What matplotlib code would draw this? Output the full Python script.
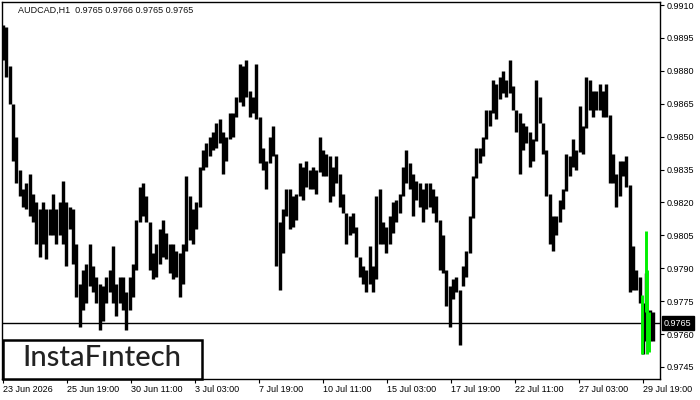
import numpy as np
import matplotlib.pyplot as plt
import matplotlib.transforms as mtransforms
from matplotlib.patches import Rectangle

# high / low of each chart column (left to right)
highs = [
    0.9901, 0.9900, 0.9882, 0.9865, 0.9850, 0.9835, 0.9826, 0.9829, 0.9833, 0.9824, 0.9820,
    0.9817, 0.9820, 0.9817, 0.9817, 0.9824, 0.9817, 0.9820, 0.9830, 0.9820, 0.9818, 0.9817,
    0.9801, 0.9783, 0.9789, 0.9792, 0.9801, 0.9791, 0.9786, 0.9783, 0.9782, 0.9786, 0.9789,
    0.9800, 0.9783, 0.9786, 0.9786, 0.9779, 0.9786, 0.9792, 0.9812, 0.9827, 0.9829, 0.9823,
    0.9811, 0.9797, 0.9801, 0.9808, 0.9812, 0.9806, 0.9801, 0.9801, 0.9798, 0.9797, 0.9801,
    0.9832, 0.9823, 0.9817, 0.9820, 0.9836, 0.9844, 0.9847, 0.9850, 0.9852, 0.9856, 0.9858,
    0.9852, 0.9850, 0.9861, 0.9861, 0.9868, 0.9883, 0.9882, 0.9885, 0.9871, 0.9868, 0.9883,
    0.9859, 0.9845, 0.9839, 0.9850, 0.9855, 0.9842, 0.9811, 0.9817, 0.9826, 0.9826, 0.9823,
    0.9824, 0.9838, 0.9836, 0.9839, 0.9835, 0.9836, 0.9835, 0.9850, 0.9844, 0.9842, 0.9841,
    0.9836, 0.9841, 0.9833, 0.9824, 0.9815, 0.9814, 0.9815, 0.9809, 0.9795, 0.9791, 0.9789,
    0.9800, 0.9791, 0.9823, 0.9826, 0.9811, 0.9809, 0.9814, 0.9820, 0.9821, 0.9824, 0.9836,
    0.9844, 0.9838, 0.9833, 0.9830, 0.9829, 0.9826, 0.9829, 0.9829, 0.9826, 0.9823, 0.9812,
    0.9805, 0.9789, 0.9782, 0.9785, 0.9786, 0.9780, 0.9791, 0.9798, 0.9814, 0.9832, 0.9845,
    0.9845, 0.9850, 0.9862, 0.9862, 0.9876, 0.9874, 0.9877, 0.9880, 0.9876, 0.9885, 0.9873,
    0.9862, 0.9861, 0.9856, 0.9855, 0.9852, 0.9849, 0.9876, 0.9868, 0.9856, 0.9844, 0.9824,
    0.9814, 0.9814, 0.9821, 0.9826, 0.9842, 0.9841, 0.9849, 0.9844, 0.9864, 0.9855, 0.9877,
    0.9876, 0.9871, 0.9871, 0.9874, 0.9871, 0.9874, 0.9860, 0.9842, 0.9833, 0.9839, 0.9839,
    0.9841, 0.9828, 0.9800, 0.9789, 0.9786, 0.9774, 0.9788, 0.9771, 0.9770,
]
lows = [
    0.9885, 0.9877, 0.9865, 0.9839, 0.9829, 0.9823, 0.9818, 0.9817, 0.9814, 0.9811, 0.9801,
    0.9795, 0.9801, 0.9794, 0.9805, 0.9805, 0.9801, 0.9805, 0.9801, 0.9791, 0.9808, 0.9792,
    0.9777, 0.9763, 0.9771, 0.9774, 0.9782, 0.9779, 0.9774, 0.9762, 0.9766, 0.9774, 0.9779,
    0.9774, 0.9768, 0.9774, 0.9771, 0.9762, 0.9771, 0.9777, 0.9789, 0.9811, 0.9814, 0.9811,
    0.9789, 0.9785, 0.9786, 0.9792, 0.9795, 0.9794, 0.9788, 0.9785, 0.9786, 0.9777, 0.9783,
    0.9798, 0.9803, 0.9801, 0.9808, 0.9818, 0.9835, 0.9836, 0.9841, 0.9844, 0.9845, 0.9847,
    0.9833, 0.9839, 0.9849, 0.9850, 0.9859, 0.9866, 0.9864, 0.9868, 0.9859, 0.9861, 0.9858,
    0.9838, 0.9835, 0.9826, 0.9838, 0.9841, 0.9791, 0.9780, 0.9797, 0.9814, 0.9808, 0.9809,
    0.9812, 0.9823, 0.9821, 0.9827, 0.9826, 0.9826, 0.9824, 0.9834, 0.9832, 0.9832, 0.9820,
    0.9823, 0.9829, 0.9818, 0.9815, 0.9801, 0.9805, 0.9806, 0.9795, 0.9786, 0.9783, 0.9779,
    0.9783, 0.9779, 0.9785, 0.9801, 0.9801, 0.9797, 0.9801, 0.9806, 0.9811, 0.9815, 0.9823,
    0.9829, 0.9826, 0.9814, 0.9821, 0.9818, 0.9811, 0.9817, 0.9818, 0.9815, 0.9811, 0.9789,
    0.9788, 0.9773, 0.9763, 0.9776, 0.9779, 0.9755, 0.9782, 0.9786, 0.9797, 0.9813, 0.9831,
    0.9838, 0.9841, 0.9849, 0.9855, 0.9861, 0.9858, 0.9867, 0.9870, 0.9868, 0.9870, 0.9862,
    0.9852, 0.9833, 0.9844, 0.9847, 0.9836, 0.9839, 0.9848, 0.9856, 0.9842, 0.9823, 0.9801,
    0.9798, 0.9805, 0.9811, 0.9817, 0.9825, 0.9832, 0.9836, 0.9835, 0.9843, 0.9842, 0.9854,
    0.9862, 0.9859, 0.9862, 0.9862, 0.9859, 0.9859, 0.9829, 0.9829, 0.9818, 0.9823, 0.9832,
    0.9827, 0.9779, 0.9780, 0.9780, 0.9774, 0.9751, 0.9757, 0.9757, 0.9757,
]

# pattern bars in green (hours from the first bar)
green_hour = [639, 642.5, 644, 646]
green_high = [0.9778, 0.9807, 0.9789, 0.9770]
green_low = [0.9751, 0.9770, 0.9751, 0.9752]

bid = 0.9765
title = "AUDCAD,H1  0.9765 0.9766 0.9765 0.9765"
date_labels = ["23 Jun 2026", "25 Jun 19:00", "30 Jun 11:00", "3 Jul 03:00", "7 Jul 19:00",
               "10 Jul 11:00", "15 Jul 03:00", "17 Jul 19:00", "22 Jul 11:00",
               "27 Jul 03:00", "29 Jul 19:00"]
price_ticks = [0.9745, 0.9760, 0.9775, 0.9790, 0.9805, 0.9820, 0.9835,
               0.9850, 0.9865, 0.9880, 0.9895, 0.9910]

plt.rcParams['font.family'] = ['Liberation Sans', 'DejaVu Sans']

fig = plt.figure(figsize=(7, 4), dpi=100)
ax = fig.add_axes([2 / 700, 21 / 400, 658 / 700, 377 / 400])

hours = np.arange(len(highs)) * 10 / 3
ax.vlines(hours, lows, highs, color="black", lw=2.45)
ax.vlines(green_hour, green_low, green_high, color="#00f000", lw=2.1, zorder=3)
ax.axhline(bid, color="black", lw=1)

ax.set_xlim(-1, 657)
ax.set_ylim(0.97395, 0.99114)

ax.set_xticks(np.arange(len(date_labels)) * 64)
ax.set_xticklabels(date_labels, fontsize=6.5, ha="left")
ax.yaxis.tick_right()
ax.set_yticks(price_ticks)
ax.set_yticklabels(["%.4f" % p for p in price_ticks], fontsize=6.5)
ax.tick_params(axis="x", length=3, pad=1.5, color="black")
ax.tick_params(axis="y", length=3, pad=2, color="black")
for s in ax.spines.values():
    s.set_linewidth(1)
    s.set_color("black")

# current price box on the right scale
trans = mtransforms.blended_transform_factory(ax.transAxes, ax.transData)
ax.text(1.006, bid, "0.9765", transform=trans, ha="left", va="center", fontsize=6.5,
        color="white", bbox=dict(fc="black", ec="black", pad=1.6), clip_on=False, zorder=5)

fig.text(18 / 700, 1 - 10 / 400, title, fontsize=6.5, va="center", ha="left", color="#111111")

# logo
fig.patches.append(Rectangle((3 / 700, 21 / 400), 199 / 700, 39 / 400, transform=fig.transFigure,
                             fc="white", ec="black", lw=1.8, zorder=5))
fig.text(102 / 700, 1 - 358 / 400, "InstaF\u0131ntech", fontsize=21, family="Lato",
         weight="medium", ha="center", va="center", color="#222222", zorder=6)

fig.savefig("out.png", dpi=100, facecolor="white")
